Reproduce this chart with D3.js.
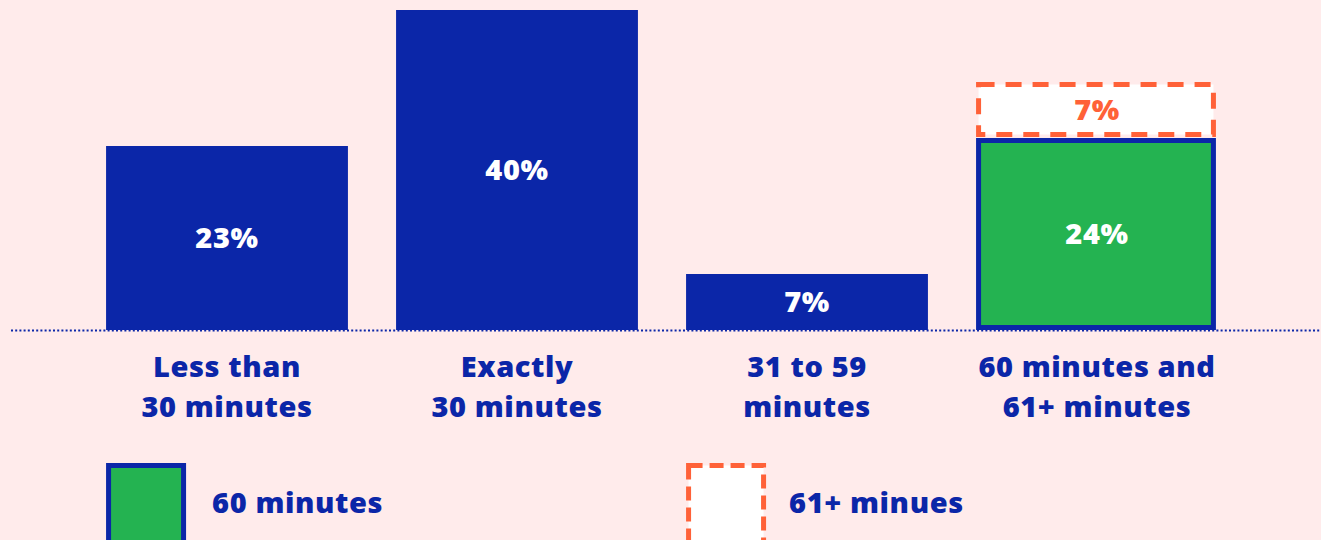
<!DOCTYPE html>
<html>
<head>
<meta charset="utf-8">
<script src="https://cdn.jsdelivr.net/npm/d3@7"></script>
<style>
  html, body { margin: 0; padding: 0; background: #FFEBEB; }
  svg { display: block; }
  text { font-family: "Open Sans", "Noto Sans", sans-serif; font-weight: 800; letter-spacing: 0.6px; }
</style>
</head>
<body>
<div class="chart"></div>
<script>
const categories = ["Less than\n30 minutes", "Exactly\n30 minutes", "31 to 59\nminutes", "60 minutes and\n61+ minutes"];
const mainValues = [23, 40, 7, 24];
const extraValues = [0, 0, 0, 7];
const legendLabels = ["60 minutes", "61+ minues"];

const navy = "#0B26A8", green = "#24B351", orange = "#FF6138", bg = "#FFEBEB";
let width = 1321, height = 540;

let svg = d3.select(".chart")
  .append("svg")
  .attr("width", width)
  .attr("height", height);

svg.append("rect").attr("width", width).attr("height", height).attr("fill", bg);

let x = d3.scaleBand()
  .domain(categories)
  .range([82, 1242])
  .paddingInner(0.166)
  .paddingOuter(0.083);

let y = d3.scaleLinear().domain([0, 40]).range([330, 10]);

let data = categories.map((c, i) => ({ cat: c, v: mainValues[i], extra: extraValues[i], special: i === 3 }));

// plain navy bars
svg.selectAll(".bar")
  .data(data.filter(d => !d.special))
  .enter()
  .append("rect")
  .attr("x", d => x(d.cat))
  .attr("y", d => y(d.v))
  .attr("width", x.bandwidth())
  .attr("height", d => y(0) - y(d.v))
  .attr("fill", navy);

// green bar with navy border
let sw = 5;
svg.selectAll(".gbar")
  .data(data.filter(d => d.special))
  .enter()
  .append("rect")
  .attr("x", d => x(d.cat) + sw / 2)
  .attr("y", d => y(d.v) + sw / 2)
  .attr("width", x.bandwidth() - sw - 2)
  .attr("height", d => y(0) - y(d.v) - sw)
  .attr("fill", green)
  .attr("stroke", navy)
  .attr("stroke-width", sw);

// dashed 61+ box
svg.selectAll(".xbar")
  .data(data.filter(d => d.extra > 0))
  .enter()
  .append("rect")
  .attr("x", d => x(d.cat) + sw / 2)
  .attr("y", d => y(d.v + d.extra) + sw / 2)
  .attr("width", x.bandwidth() - sw - 2)
  .attr("height", d => y(d.v) - y(d.v + d.extra) - sw - 1)
  .attr("fill", "#fff")
  .attr("stroke", orange)
  .attr("stroke-width", sw)
  .attr("stroke-dasharray", "16,11");

// baseline dotted
svg.append("line")
  .attr("x1", 11).attr("x2", width)
  .attr("y1", y(0) + 0.5).attr("y2", y(0) + 0.5)
  .attr("stroke", navy)
  .attr("stroke-width", 2)
  .attr("stroke-dasharray", "2,2.2");

// value labels
svg.selectAll(".vlab")
  .data(data)
  .enter()
  .append("text")
  .attr("x", d => x(d.cat) + x.bandwidth() / 2)
  .attr("y", d => (y(d.v) + y(0)) / 2)
  .attr("dy", "0.36em")
  .attr("text-anchor", "middle")
  .attr("fill", "#fff")
  .style("font-size", "29px")
  .text(d => d.v + "%");

svg.selectAll(".elab")
  .data(data.filter(d => d.extra > 0))
  .enter()
  .append("text")
  .attr("x", d => x(d.cat) + x.bandwidth() / 2)
  .attr("y", d => (y(d.v) + y(d.v + d.extra)) / 2)
  .attr("dy", "0.36em")
  .attr("text-anchor", "middle")
  .attr("fill", orange)
  .style("font-size", "29px")
  .text(d => d.extra + "%");

// category labels
let catText = svg.selectAll(".clab")
  .data(categories)
  .enter()
  .append("text")
  .attr("text-anchor", "middle")
  .attr("fill", navy)
  .style("font-size", "29px");

catText.selectAll("tspan")
  .data(d => d.split("\n").map(t => ({ t: t, c: d })))
  .enter()
  .append("tspan")
  .attr("x", d => x(d.c) + x.bandwidth() / 2)
  .attr("y", (d, i) => 377 + i * 40)
  .text(d => d.t);

// legend
let legend = svg.selectAll(".leg")
  .data(legendLabels)
  .enter()
  .append("g")
  .attr("transform", (d, i) => "translate(" + x(categories[i * 2]) + ",463)");

legend.append("rect")
  .attr("x", sw / 2).attr("y", sw / 2)
  .attr("width", 80 - sw).attr("height", 100)
  .attr("fill", (d, i) => i === 0 ? green : "#fff")
  .attr("stroke", (d, i) => i === 0 ? navy : orange)
  .attr("stroke-width", sw)
  .attr("stroke-dasharray", (d, i) => i === 0 ? null : "14,7");

legend.append("text")
  .attr("x", (d, i) => i === 0 ? 106 : 103)
  .attr("y", 40)
  .attr("dy", "0.36em")
  .attr("fill", navy)
  .style("font-size", "29px")
  .text(d => d);
</script>
</body>
</html>
